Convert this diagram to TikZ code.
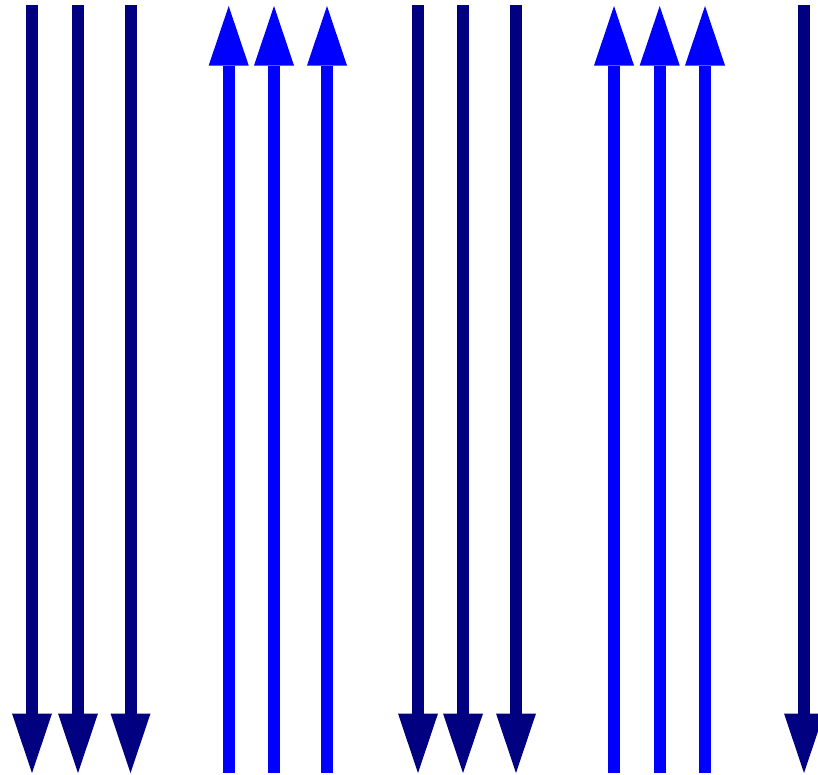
\documentclass[tikz,border=0pt]{standalone}
\definecolor{navyc}{RGB}{0,0,128}
\definecolor{bluec}{RGB}{0,0,255}
\tikzset{
  shaft/.style={line width=12pt, line cap=butt},
  headfill/.style={draw=none},
}
\begin{document}
\begin{tikzpicture}[x=1pt,y=-1pt]
\useasboundingbox (0,0) rectangle (818,774);
\clip (0,0) rectangle (818,774);
% down arrows (navy)
\foreach \x/\n in {32/d1,78/d2,130.5/d3,418/d4,463/d5,516/d6,804/d7}{
  \coordinate (\n s) at (\x,5);
  \coordinate (\n b) at (\x,713.5);
  \coordinate (\n t) at (\x,773);
  \draw[shaft,navyc] (\n s) -- (\n b);
  \fill[navyc] ([xshift=-20pt]\n b) -- ([xshift=20pt]\n b) -- (\n t) -- cycle;
}
% up arrows (blue)
\foreach \x/\n in {228.7/u1,274/u2,327/u3,614/u4,659.7/u5,705/u6}{
  \coordinate (\n s) at (\x,773);
  \coordinate (\n b) at (\x,65.5);
  \coordinate (\n t) at (\x,6);
  \draw[shaft,bluec] (\n s) -- (\n b);
  \fill[bluec] ([xshift=-20pt]\n b) -- ([xshift=20pt]\n b) -- (\n t) -- cycle;
}
\end{tikzpicture}
\end{document}
